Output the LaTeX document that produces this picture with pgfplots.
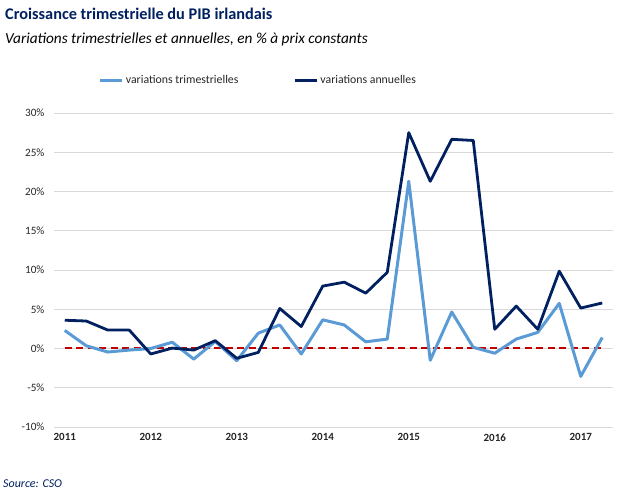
\documentclass[border=0pt]{standalone}
\usepackage{fontspec}
\setmainfont{Carlito}
\usepackage{pgfplots}
\pgfplotsset{compat=1.18}
\definecolor{navy}{HTML}{002060}
\definecolor{lblue}{HTML}{5B9BD5}
\definecolor{zred}{HTML}{C00000}
\definecolor{gridgray}{HTML}{D9D9D9}
\definecolor{txtgray}{HTML}{262626}
\begin{document}
\begin{tikzpicture}
\path (0,0) rectangle (642bp,492bp);
\node[anchor=base west, inner sep=0, text=navy, font=\fontsize{16.3bp}{18bp}\selectfont\bfseries] at (5bp,472bp) {Croissance trimestrielle du PIB irlandais};
\node[anchor=base west, inner sep=0, text=black, font=\fontsize{15.3bp}{18bp}\selectfont\itshape] at (5bp,448bp) {Variations trimestrielles et annuelles, en \% à prix constants};
\node[anchor=base west, inner sep=0, text=navy, font=\fontsize{12bp}{14bp}\selectfont\itshape] at (3bp,5bp) {Source: CSO};
\begin{axis}[
  at={(54bp,65bp)}, anchor=south west,
  scale only axis, width=559bp, height=314bp,
  xmin=-0.5, xmax=25.5, ymin=-10, ymax=30,
  xtick={0,4,8,12,16,20,24},
  xticklabels={2011,2012,2013,2014,2015,2016,2017},
  ytick={-10,-5,0,5,10,15,20,25,30},
  yticklabel={\pgfmathprintnumber{\tick}\%},
  /pgf/number format/assume math mode=true,
  major tick length=0pt,
  axis line style={draw=none},
  ymajorgrids, grid style={gridgray, line width=0.9bp},
  tick label style={font=\fontsize{11.2bp}{13bp}\selectfont, text=txtgray},
  xticklabel style={yshift=-3bp, font=\fontsize{11bp}{13bp}\selectfont\bfseries},
  yticklabel style={xshift=-6bp},
  legend columns=2,
  legend style={at={(0.080,1.105)}, anchor=west, draw=none, fill=none,
    inner sep=0pt, font=\fontsize{11.8bp}{13bp}\selectfont, text=txtgray,
    /tikz/every odd column/.append style={column sep=0pt},
    /tikz/every even column/.append style={column sep=53bp}},
  legend image code/.code={\draw[#1, line width=3bp] (0bp,0bp) -- (22bp,0bp);},
  line join=round,
]
\addplot[forget plot, zred, line width=2bp, dash pattern=on 7bp off 4.5bp] coordinates {(0,0) (25,0)};
\addplot[lblue, line width=3bp] coordinates {
(0,2.3) (1,0.35) (2,-0.45) (3,-0.2) (4,0.0) (5,0.8) (6,-1.35) (7,0.9) (8,-1.55) (9,1.95) (10,3.0) (11,-0.7) (12,3.65) (13,3.0) (14,0.85) (15,1.2) (16,21.3) (17,-1.5) (18,4.65) (19,0.15) (20,-0.6) (21,1.2) (22,2.05) (23,5.75) (24,-3.55) (25,1.4)};
\addlegendentry{variations trimestrielles}
\addplot[navy, line width=2.8bp] coordinates {
(0,3.6) (1,3.5) (2,2.35) (3,2.35) (4,-0.7) (5,0.05) (6,-0.2) (7,1.0) (8,-1.25) (9,-0.5) (10,5.1) (11,2.8) (12,7.95) (13,8.45) (14,7.05) (15,9.7) (16,27.5) (17,21.3) (18,26.65) (19,26.5) (20,2.45) (21,5.4) (22,2.45) (23,9.85) (24,5.15) (25,5.8)};
\addlegendentry{variations annuelles}
\end{axis}
\end{tikzpicture}
\end{document}
